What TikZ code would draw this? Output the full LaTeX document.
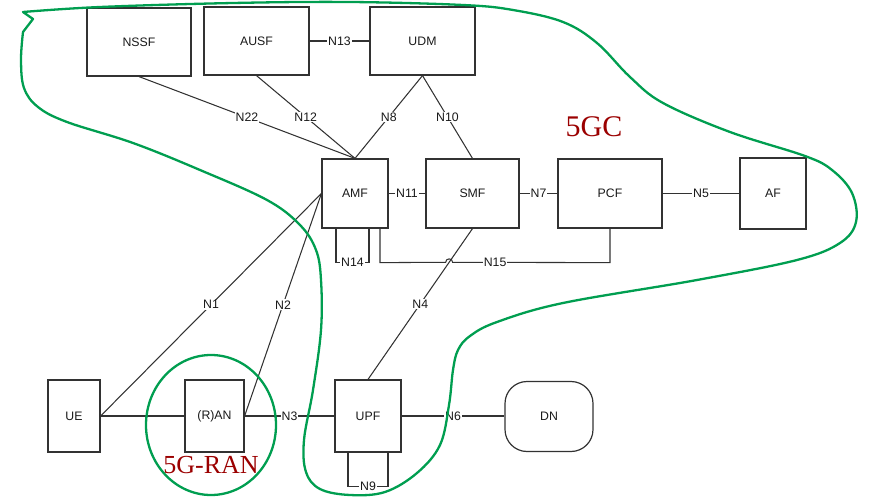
\documentclass[tikz,border=0pt]{standalone}
\usepackage{fontspec}
\setmainfont{Liberation Sans}
\newfontfamily\gcserif{Liberation Serif}
\usetikzlibrary{calc}
\definecolor{grn}{RGB}{0,158,80}
\definecolor{dred}{RGB}{155,0,0}
\definecolor{ln}{RGB}{50,50,50}
\definecolor{txt}{RGB}{25,25,25}
\begin{document}
\begin{tikzpicture}[x=1pt,y=-1pt,
  nf/.style n args={2}{draw=ln, line width=1.2pt, minimum width=#1, minimum height=#2, inner sep=0pt, text=txt, font=\fontsize{12.3}{14}\selectfont},
  con/.style={draw=ln, line width=1.05pt},
  lab/.style={fill=white, inner sep=1pt, text=txt, font=\fontsize{12.3}{14}\selectfont},
  zone/.style={draw=grn, line width=2.3pt, line join=round},
  big/.style={text=dred, anchor=base, inner sep=0pt}]
\useasboundingbox (0,0) rectangle (883,497);

% network functions
\node[nf={104pt}{68pt}] (NSSF) at (139,42) {NSSF};
\node[nf={105pt}{68pt}] (AUSF) at (256.5,41) {AUSF};
\node[nf={105pt}{68pt}] (UDM) at (422.5,41) {UDM};
\node[nf={66pt}{69pt}] (AMF) at (355,193.5) {AMF};
\node[nf={93pt}{69pt}] (SMF) at (472.5,193.5) {SMF};
\node[nf={104pt}{69pt}] (PCF) at (610,193.5) {PCF};
\node[nf={66pt}{71pt}] (AF) at (773,193.5) {AF};
\node[nf={52pt}{72pt}] (UE) at (74,416) {UE};
\node[nf={59pt}{72pt}] (RAN) at (214.5,416) {(R)AN};
\node[nf={66pt}{72pt}] (UPF) at (368,416) {UPF};
\node[nf={88pt}{70pt}, rounded corners=22pt] (DN) at (549,416.5) {DN};

% reference points
\draw[con] (AUSF.east) -- node[lab]{N13} (UDM.west);
\draw[con] (NSSF.south) -- node[lab]{N22} (AMF.north);
\draw[con] (AUSF.south) -- node[lab]{N12} (AMF.north);
\draw[con] (UDM.south) -- node[lab]{N8} (AMF.north);
\draw[con] (UDM.south) -- node[lab]{N10} (SMF.north);
\draw[con] (AMF.east) -- node[lab]{N11} (SMF.west);
\draw[con] (SMF.east) -- node[lab]{N7} (PCF.west);
\draw[con] (PCF.east) -- node[lab]{N5} (AF.west);
\draw[con] (UE.east) -- (RAN.west);
\draw[con] (UE.east) -- node[lab]{N1} (AMF.west);
\draw[con] (RAN.east) -- node[lab]{N2} (AMF.west);
\draw[con] (RAN.east) -- node[lab]{N3} (UPF.west);
\draw[con] (UPF.east) -- node[lab]{N6} (DN.west |- UPF.east);
\draw[con] (SMF.south) -- node[lab]{N4} (UPF.north);
\draw[con] ($(AMF.south)+(-19,0)$) |- node[lab,pos=0.75]{N14} ($(AMF.south)+(14,34)$) -- ($(AMF.south)+(14,0)$);
\coordinate (hop) at ($(SMF.south)!0.2237!(UPF.north)$);
\draw[con] ($(AMF.south)+(25,0)$) -- ($(AMF.south)+(25,34)$) -- ([xshift=-3.5pt]hop)
  arc[start angle=180,end angle=0,radius=3.5pt]
  -- node[lab,pos=0.27]{N15} ($(PCF.south)+(0,34)$) -- (PCF.south);
\draw[con] ($(UPF.south)+(-20,0)$) |- node[lab,pos=0.75]{N9} ($(UPF.south)+(20,34)$) -- ($(UPF.south)+(20,0)$);

% zone labels
\node[big, font=\gcserif\fontsize{30}{32}\selectfont] (t5gc) at (594,137) {5GC};
\node[big, font=\gcserif\fontsize{26}{28}\selectfont] (t5gran) at (211,473) {5G-RAN};

% zones
\draw[zone] (211,425) ellipse [x radius=65, y radius=70];
\draw[zone] (33,19) -- plot[smooth, tension=0.6] coordinates {
  (23,32) (21,60) (24,88) (38,107) (67,122) (133,143) (200,170) (267,200)
  (300,225) (316,250) (321,280) (321,330) (313,390) (304,440) (306,472)
  (320,489) (350,495) (385,492) (417,473) (440,445) (449,405) (453,370)
  (458,350) (470,336) (497,322) (563,303) (697,280) (797,260) (840,243)
  (856,222) (852,193) (832,170) (805,156) (730,132) (663,103) (630,77)
  (597,43) (563,22) (513,10) (463,5) (350,2) (233,3) (100,7) (23,12)} -- cycle;
\end{tikzpicture}
\end{document}
